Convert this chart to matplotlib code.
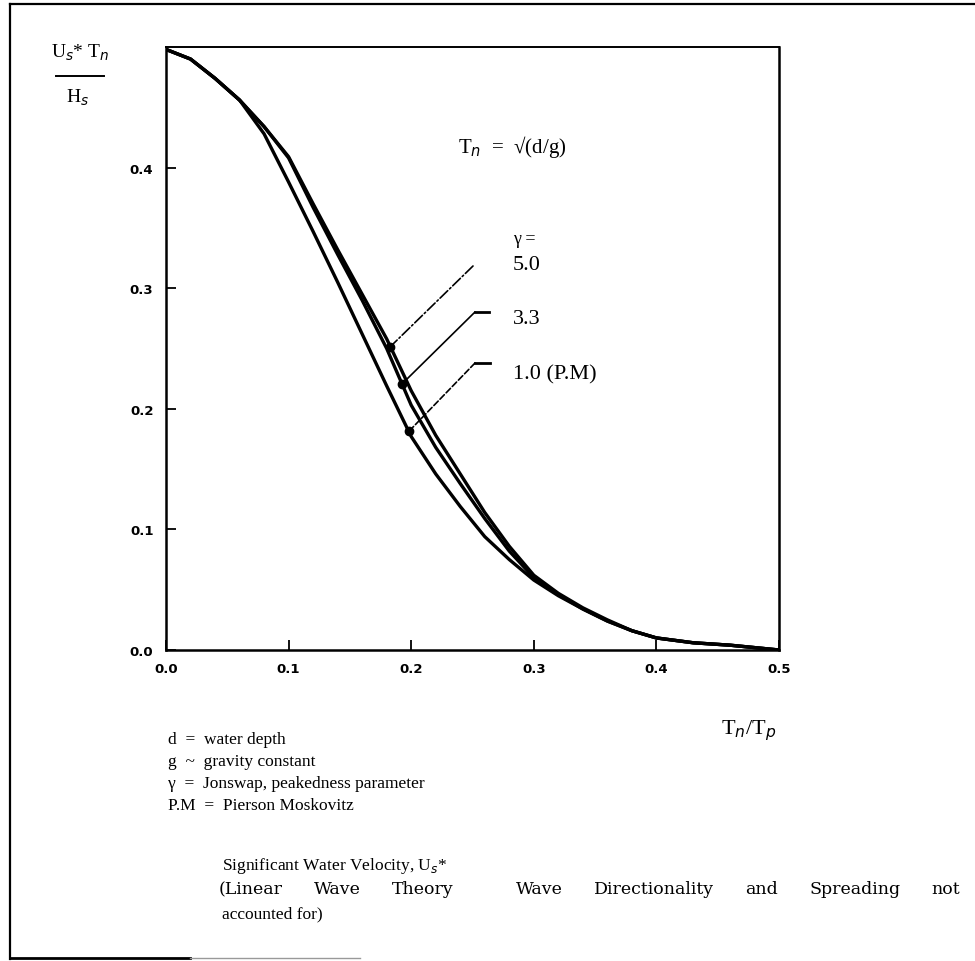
import matplotlib.pyplot as plt
import numpy as np
from matplotlib.lines import Line2D

# Tn/Tp sample points (shared by the three curves)
tn_tp = [0.00, 0.02, 0.04, 0.06, 0.08, 0.10, 0.12, 0.14, 0.16, 0.18, 0.20, 0.22,
         0.24, 0.26, 0.28, 0.30, 0.32, 0.34, 0.36, 0.38, 0.40, 0.43, 0.46, 0.50]

# U*Tn/Hs for each peakedness value
u_pm = [0.498, 0.490, 0.474, 0.456, 0.428, 0.388, 0.347, 0.305, 0.262, 0.219, 0.177, 0.146,
        0.119, 0.094, 0.075, 0.058, 0.045, 0.034, 0.024, 0.016, 0.010, 0.006, 0.004, 0.000]
u_33 = [0.498, 0.490, 0.474, 0.456, 0.434, 0.408, 0.367, 0.328, 0.290, 0.250, 0.203, 0.168,
        0.138, 0.109, 0.082, 0.060, 0.046, 0.034, 0.024, 0.016, 0.010, 0.006, 0.004, 0.000]
u_50 = [0.498, 0.490, 0.474, 0.456, 0.434, 0.409, 0.370, 0.332, 0.295, 0.258, 0.215, 0.178,
        0.146, 0.114, 0.086, 0.062, 0.047, 0.035, 0.025, 0.016, 0.010, 0.006, 0.004, 0.000]

gamma_labels = ["5.0", "3.3", "1.0 (P.M)"]
dot_x = [0.183, 0.1925, 0.198]   # where each leader touches its curve

x_ticks = [0.0, 0.1, 0.2, 0.3, 0.4, 0.5]
y_ticks = [0.0, 0.1, 0.2, 0.3, 0.4]

W, H = 975, 962
def fx(px):
    return px / W
def fy(py):
    return 1 - py / H

serif = ["Liberation Serif", "DejaVu Serif"]

fig = plt.figure(figsize=(9.75, 9.62), dpi=100)
ax = fig.add_axes([fx(166), fy(651), (779 - 166) / W, (651 - 48) / H])

curves = [u_50, u_33, u_pm]
for u in curves:
    ax.plot(tn_tp, u, color="black", lw=2.4, solid_capstyle="round")

ax.set_xlim(0, 0.5)
ax.set_ylim(0, 0.5)
ax.set_xticks(x_ticks)
ax.set_yticks(y_ticks)
ax.set_xticklabels([f"{v:.1f}" for v in x_ticks])
ax.set_yticklabels([f"{v:.1f}" for v in y_ticks])
ax.tick_params(direction="in", length=7, width=1.3, pad=9, labelsize=9.5)
for lab in ax.get_xticklabels() + ax.get_yticklabels():
    lab.set_fontweight("bold")
    lab.set_family("DejaVu Sans")
for side in ["left", "bottom", "right"]:
    ax.spines[side].set_linewidth(1.8)
ax.spines["top"].set_linewidth(1.4)

# dots on the curves and leader lines to the gamma labels
dot_y = [np.interp(x, tn_tp, u) for x, u in zip(dot_x, curves)]
ax.plot(dot_x, dot_y, "o", color="black", ms=6)

# leader knees (figure pixels, y down) and horizontal stub ends
knees = [(473, 267), (475, 313), (475, 364)]
stubs = [None, 489, 490]
styles = ["-.", "-", "--"]
for (kx, ky), st, ls, x0, y0 in zip(knees, stubs, styles, dot_x, dot_y):
    ax.annotate("", xy=(x0, y0), xycoords="data",
                xytext=(kx, H - ky), textcoords="figure pixels",
                arrowprops=dict(arrowstyle="-", lw=1.2, linestyle=ls,
                                shrinkA=0, shrinkB=0))
    if st is not None:
        fig.add_artist(Line2D([fx(kx), fx(st)], [fy(ky), fy(ky)],
                              color="black", lw=2.0))

fig.text(fx(513), fy(240), "γ =", family=serif, fontsize=13, va="center")
for lab, py in zip(gamma_labels, [266, 320, 375]):
    fig.text(fx(513), fy(py), lab, family=serif, fontsize=16, va="center")

fig.text(fx(458), fy(147), "T$_n$  =  √(d/g)", family=serif, fontsize=15, va="center")

# y axis label as a stacked fraction
fig.text(fx(80), fy(53), "U$_s$* T$_n$", family=serif, fontsize=14,
         ha="center", va="center")
fig.add_artist(Line2D([fx(56), fx(104)], [fy(77), fy(77)], color="black", lw=1.4))
fig.text(fx(78), fy(98), "H$_s$", family=serif, fontsize=14, ha="center", va="center")

fig.text(fx(776), fy(731), "T$_n$/T$_p$", family=serif, fontsize=16,
         ha="right", va="center")

notes = ["d  =  water depth",
         "g  ~  gravity constant",
         "γ  =  Jonswap, peakedness parameter",
         "P.M  =  Pierson Moskovitz"]
for txt, py in zip(notes, [740, 762, 784, 806]):
    fig.text(fx(168), fy(py), txt, family=serif, fontsize=12.5, va="center")

fig.text(fx(222), fy(866), "Significant Water Velocity, U$_s$*", family=serif,
         fontsize=12.5, va="center")

# the caption line in the scan is spread out from x=219 to x=960, so justify it
caption_words = ["(Linear", "Wave", "Theory", "Wave", "Directionality", "and", "Spreading", "not"]
gap_units = [1, 1, 2, 1, 1, 1, 1]
word_texts = [fig.text(0, fy(890), w, family=["DejaVu Serif"], fontsize=12.5, va="center")
              for w in caption_words]
renderer = fig.canvas.get_renderer()
widths = [t.get_window_extent(renderer).width for t in word_texts]
line_l, line_r = 219, 960
unit = (line_r - line_l - sum(widths)) / sum(gap_units)
px = line_l
for t, wd, g in zip(word_texts, widths, gap_units + [0]):
    t.set_x(fx(px))
    px += wd + g * unit

fig.text(fx(222), fy(914), "accounted for)", family=serif, fontsize=12.5, va="center")

# page frame around the figure
fig.add_artist(Line2D([fx(10), fx(10)], [fy(5), fy(960)], color="black", lw=1.6))
fig.add_artist(Line2D([fx(10), fx(975)], [fy(5), fy(5)], color="black", lw=1.6))
fig.add_artist(Line2D([fx(10), fx(190)], [fy(959), fy(959)], color="black", lw=2.0))
fig.add_artist(Line2D([fx(190), fx(360)], [fy(959), fy(959)], color="0.6", lw=1.0))

fig.savefig("out.png", dpi=100)
